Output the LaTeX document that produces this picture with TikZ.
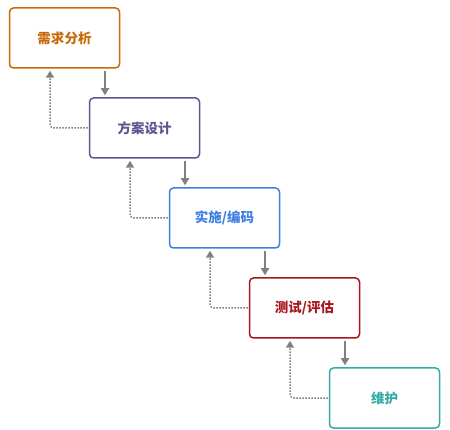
\documentclass[tikz,border=0pt]{standalone}
\usepackage{fontspec}
\setmainfont{Noto Sans CJK SC}
\usetikzlibrary{arrows.meta}
\definecolor{cOrange}{HTML}{C8690A}
\definecolor{cPurple}{HTML}{5B5890}
\definecolor{cBlue}{HTML}{3F7FE0}
\definecolor{cRed}{HTML}{A8161B}
\definecolor{cTeal}{HTML}{35AAA6}
\definecolor{cGray}{HTML}{808080}
\begin{document}
\begin{tikzpicture}[x = 1pt, y = -1pt]
\tikzstyle{stageStyle}=[shape = rectangle, rounded corners = 4pt, minimum width = 110pt, minimum height = 60pt, line width = 1.5pt, draw, font = \fontsize{13.5}{16}\selectfont\bfseries]
\tikzstyle{downStyle}=[draw = cGray, line width = 1.5pt, -{Triangle[length = 7pt, width = 8pt]}, shorten <= 2pt, shorten >= 2pt]
\tikzstyle{backStyle}=[draw = cGray, line width = 1.5pt, dash pattern = on 1.5pt off 1.5pt, rounded corners = 4pt, -{Triangle[length = 7pt, width = 8pt]}, shorten >= 2pt]
\useasboundingbox (0,0) rectangle (450,430);
\node[stageStyle, draw = cOrange, text = cOrange] (s1) at (64.5, 38) {需求分析};
\node[stageStyle, draw = cPurple, text = cPurple] (s2) at (144.5, 128) {方案设计};
\node[stageStyle, draw = cBlue, text = cBlue] (s3) at (224.5, 218) {实施/编码};
\node[stageStyle, draw = cRed, text = cRed] (s4) at (304.5, 308) {测试/评估};
\node[stageStyle, draw = cTeal, text = cTeal] (s5) at (384.5, 398) {维护};
\draw[downStyle] ([xshift = 40.5pt]s1.south) -- ([xshift = -39.5pt]s2.north);
\draw[downStyle] ([xshift = 40.5pt]s2.south) -- ([xshift = -39.5pt]s3.north);
\draw[downStyle] ([xshift = 40.5pt]s3.south) -- ([xshift = -39.5pt]s4.north);
\draw[downStyle] ([xshift = 40.5pt]s4.south) -- ([xshift = -39.5pt]s5.north);
%\draw[backStyle] (s1.west) -- (s1.north);
\draw[backStyle] ([xshift = -1pt]s2.west) -| ([xshift = -14.5pt]s1.south);
\draw[backStyle] ([xshift = -1pt]s3.west) -| ([xshift = -14.5pt]s2.south);
\draw[backStyle] ([xshift = -1pt]s4.west) -| ([xshift = -14.5pt]s3.south);
\draw[backStyle] ([xshift = -1pt]s5.west) -| ([xshift = -14.5pt]s4.south);
\end{tikzpicture}
\end{document}
